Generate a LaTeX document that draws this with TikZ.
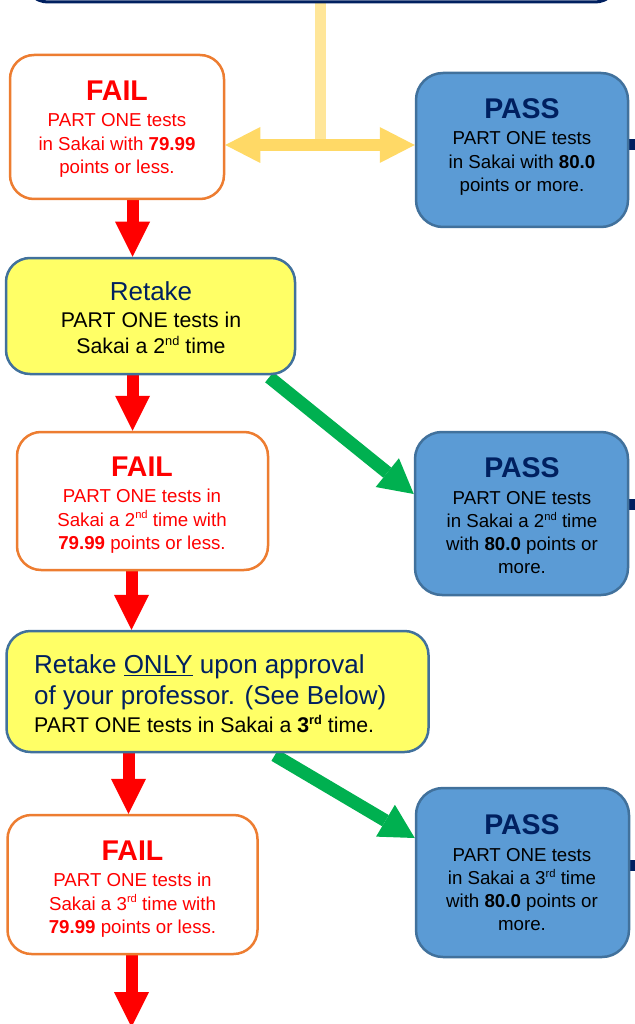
\documentclass[tikz,border=0pt]{standalone}
\usepackage{fontspec}
\setmainfont{Liberation Sans}
\usetikzlibrary{arrows.meta,calc}
\definecolor{navy}{HTML}{002060}
\definecolor{passfill}{HTML}{5B9BD5}
\definecolor{passborder}{HTML}{41719C}
\definecolor{retakefill}{HTML}{FFFF66}
\definecolor{failborder}{HTML}{ED7D31}
\definecolor{failred}{HTML}{FF0000}
\definecolor{greenarrow}{HTML}{00B050}
\definecolor{yellowarrow}{HTML}{FFD966}
\definecolor{yellowline}{HTML}{FFE699}
\pgfdeclarelayer{background}
\pgfsetlayers{background,main}
\newcommand{\bodyfont}{\fontsize{18.7}{23.3}\selectfont}
\newcommand{\titlefont}{\fontsize{28.5}{30}\selectfont\bfseries}
\newcommand{\retakehead}{\fontsize{26}{30.6}\selectfont}
\newcommand{\retakebody}{\fontsize{21.3}{26}\selectfont}
\newcommand{\sups}[1]{\raisebox{0.38em}{\scalebox{0.6}{#1}}}
\tikzset{
  box/.style={draw, rounded corners=24pt, inner sep=0pt},
  failbox/.style={box, draw=failborder, fill=white, line width=2.5pt},
  passbox/.style={box, draw=passborder, fill=passfill, line width=2.5pt, rounded corners=27pt},
  retakebox/.style={box, draw=passborder, fill=retakefill, line width=2.5pt},
  failtext/.style={inner sep=0pt, align=center, text=failred, font=\bodyfont},
  passtext/.style={inner sep=0pt, align=center, text=black, font=\bodyfont},
  retaketext/.style={inner sep=0pt, align=center, text=black, font=\retakebody},
  redarrow/.style={draw=failred, line width=12pt, -{Triangle[width=35pt,length=35pt,line width=0pt]}, failred},
  greenarr/.style={draw=greenarrow, line width=13pt, -{Triangle[width=37pt,length=34pt,line width=0pt]}, greenarrow},
  yellowarr/.style={draw=yellowarrow, line width=12pt, {Triangle[width=36pt,length=35pt,line width=0pt]}-{Triangle[width=36pt,length=35pt,line width=0pt]}, yellowarrow},
  stub/.style={draw=navy, line width=11pt}
}
\begin{document}
\begin{tikzpicture}[x=1pt,y=-1pt]
\useasboundingbox (0,0) rectangle (634,1024);
\clip (0,0) rectangle (634,1024);
% top box (only bottom edge visible)
\node[box, draw=navy, fill=white, line width=3pt, minimum width=595pt, minimum height=84pt] (top) at (321.5,-40) {};
% boxes
\node[failbox, minimum width=214pt, minimum height=144pt] (fail1) at (117,127) {};
\node[passbox, minimum width=212pt, minimum height=154pt] (pass1) at (522,150) {};
\node[retakebox, minimum width=289pt, minimum height=116pt] (retake1) at (150.5,316) {};
\node[failbox, minimum width=251pt, minimum height=138pt] (fail2) at (142.5,501) {};
\node[passbox, minimum width=213pt, minimum height=163pt] (pass2) at (521.5,513.5) {};
\node[retakebox, minimum width=422pt, minimum height=121pt] (retake2) at (217.5,691.5) {};
\node[failbox, minimum width=250pt, minimum height=139pt] (fail3) at (132.5,884.5) {};
\node[passbox, minimum width=213pt, minimum height=169pt] (pass3) at (522.5,872.5) {};
% texts
\node[failtext] (fail1t) at (117,129) {{\titlefont FAIL}\\[3pt]PART ONE tests\\in Sakai with \textbf{79.99}\\points or less.};
\node[passtext] (pass1t) at (522,147) {{\titlefont\color{navy}PASS}\\[3pt]PART ONE tests\\in Sakai with \textbf{80.0}\\points or more.};
\node[retaketext] (retake1t) at (151,318) {{\retakehead\color{navy}Retake}\\[1pt]PART ONE tests in\\Sakai a 2\sups{nd} time};
\node[failtext] (fail2t) at (142,505) {{\titlefont FAIL}\\[3pt]PART ONE tests in\\Sakai a 2\sups{nd} time with\\\textbf{79.99} points or less.};
\node[passtext] (pass2t) at (522,516) {{\titlefont\color{navy}PASS}\\[3pt]PART ONE tests\\in Sakai a 2\sups{nd} time\\with \textbf{80.0} points or\\more.};
\node[inner sep=0pt, align=left, text=navy, font=\retakehead, anchor=west] (retake2t) at (34,694) {Retake \underline{ONLY} upon approval\\of your professor. (See Below)\\[-2.2pt]{\retakebody\color{black}PART ONE tests in Sakai a \textbf{3\sups{rd}} time.}};
\node[failtext] (fail3t) at (132.5,889) {{\titlefont FAIL}\\[3pt]PART ONE tests in\\Sakai a 3\sups{rd} time with\\\textbf{79.99} points or less.};
\node[passtext] (pass3t) at (522,873) {{\titlefont\color{navy}PASS}\\[3pt]PART ONE tests\\in Sakai a 3\sups{rd} time\\with \textbf{80.0} points or\\more.};
% coordinates
\coordinate (j) at (320.5,145);
\coordinate (a1) at (132.5,0);
\coordinate (a2) at (132.5,0);
\coordinate (a3) at (131.5,0);
\coordinate (a4) at (128.5,0);
\coordinate (a5) at (131.5,0);
\coordinate (endarrow) at (131.5,1027);
\coordinate (s1) at (645,145);
\coordinate (s2) at (645,504);
\coordinate (s3) at (645,865);
\begin{pgfonlayer}{background}
\draw[yellowline, line width=11pt] (top.south -| j) -- ([yshift=6pt]j);
\draw[yellowarr] (j -| fail1.east) -- (j -| pass1.west);
\draw[stub] (s1 -| pass1.east) -- (s1);
\draw[stub] (s2 -| pass2.east) -- (s2);
\draw[stub] (s3 -| pass3.east) -- (s3);
\draw[redarrow] (fail1.south -| a1) -- (retake1.north -| a1);
\draw[redarrow] (retake1.south -| a2) -- (fail2.north -| a2);
\draw[redarrow] (fail2.south -| a3) -- (retake2.north -| a3);
\draw[redarrow] (retake2.south -| a4) -- (fail3.north -| a4);
\draw[redarrow] (fail3.south -| a5) -- (endarrow);
\draw[greenarr] ($(retake1.south east)+(-27,2)$) -- ($(pass2.west)+(0,-19.5)$);
\draw[greenarr] ($(retake2.south east)+(-155,2)$) -- ($(pass3.west)+(0,-34.5)$);
\end{pgfonlayer}
\end{tikzpicture}
\end{document}
